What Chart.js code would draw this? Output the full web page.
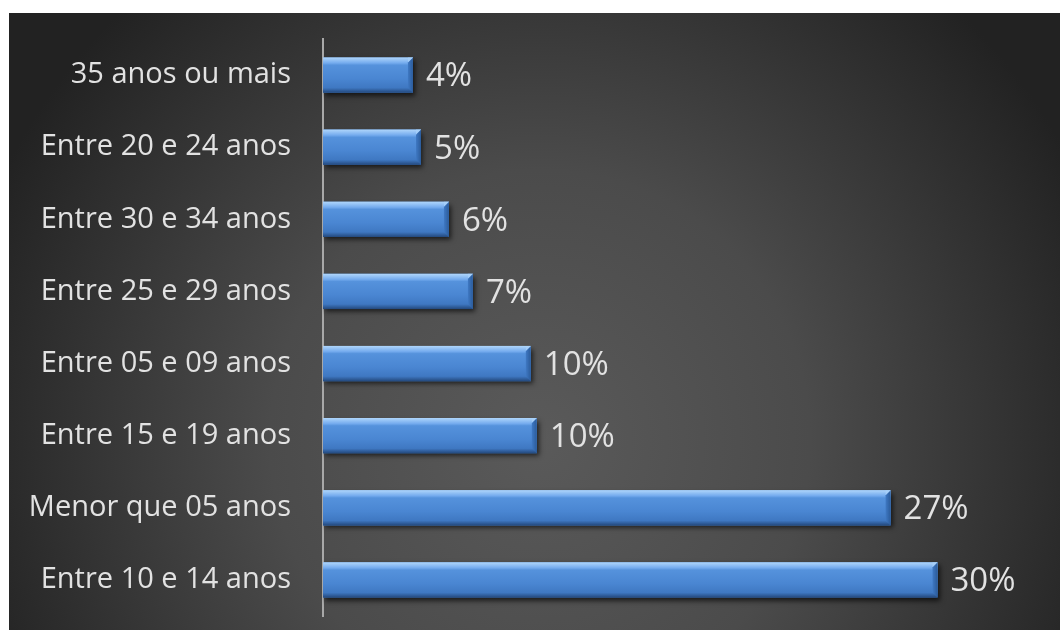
<!DOCTYPE html>
<html>
<head>
<meta charset="utf-8">
<script src="https://cdn.jsdelivr.net/npm/chart.js@4.4.1/dist/chart.umd.min.js"></script>
<style>
  html, body { margin: 0; padding: 0; background: #fff; }
  #wrap { width: 1060px; height: 630px; }
</style>
</head>
<body>
<div id="wrap"><canvas id="chart"></canvas></div>
<script>
const categories = [
    "35 anos ou mais",
    "Entre 20 e 24 anos",
    "Entre 30 e 34 anos",
    "Entre 25 e 29 anos",
    "Entre 05 e 09 anos",
    "Entre 15 e 19 anos",
    "Menor que 05 anos",
    "Entre 10 e 14 anos"
];
const shares = [4.35, 4.74, 6.09, 7.25, 10.05, 10.34, 27.45, 29.72];
const xMax = 34;

const textColor = "#e2e2e2";

// dark panel with a soft radial light in the middle
const panelBg = {
    id: "panelBg",
    beforeDraw(chart) {
        const ctx = chart.ctx;
        ctx.save();
        ctx.fillStyle = "#ffffff";
        ctx.fillRect(0, 0, chart.width, chart.height);
        const g = ctx.createRadialGradient(540, 440, 0, 540, 440, 600);
        g.addColorStop(0, "#5a5a5a");
        g.addColorStop(0.45, "#4b4b4b");
        g.addColorStop(1, "#222222");
        ctx.fillStyle = g;
        ctx.fillRect(9, 13, chart.width - 9, chart.height - 13);
        ctx.restore();
    }
};

// drop shadow under the bars
const barShadow = {
    id: "barShadow",
    beforeDatasetDraw(chart) {
        const ctx = chart.ctx;
        ctx.save();
        ctx.shadowColor = "rgba(0,0,0,0.65)";
        ctx.shadowBlur = 5;
        ctx.shadowOffsetX = 2;
        ctx.shadowOffsetY = 3;
    },
    afterDatasetDraw(chart) {
        chart.ctx.restore();
    }
};

// bevel on each bar + value labels
const bevelAndLabels = {
    id: "bevelAndLabels",
    afterDatasetsDraw(chart) {
        const ctx = chart.ctx;
        const meta = chart.getDatasetMeta(0);
        meta.data.forEach((bar, i) => {
            const p = bar.getProps(["x", "y", "base", "height"], true);
            const left = p.base, right = p.x;
            const top = p.y - p.height / 2, bottom = p.y + p.height / 2;
            const b = 5;
            ctx.save();
            // body
            let g = ctx.createLinearGradient(0, top, 0, bottom);
            g.addColorStop(0, "#b0d6fb");
            g.addColorStop(0.16, "#74abee");
            g.addColorStop(0.22, "#5592dc");
            g.addColorStop(0.6, "#4a86d2");
            g.addColorStop(0.86, "#3f78c2");
            g.addColorStop(1, "#23487c");
            ctx.fillStyle = g;
            ctx.fillRect(left, top, right - left, bottom - top);
            // right bevel
            g = ctx.createLinearGradient(right - b, 0, right, 0);
            g.addColorStop(0, "#3f79c4");
            g.addColorStop(1, "#2b5b9a");
            ctx.fillStyle = g;
            ctx.beginPath();
            ctx.moveTo(right - b, top + b);
            ctx.lineTo(right, top);
            ctx.lineTo(right, bottom);
            ctx.lineTo(right - b, bottom - b);
            ctx.closePath();
            ctx.fill();
            // top-right corner light
            ctx.fillStyle = "rgba(170,210,250,0.7)";
            ctx.beginPath();
            ctx.moveTo(right - b, top + b);
            ctx.lineTo(right, top);
            ctx.lineTo(right - b, top);
            ctx.closePath();
            ctx.fill();
            ctx.restore();

            // value label
            ctx.save();
            ctx.font = "33px 'Open Sans'";
            ctx.fillStyle = textColor;
            ctx.textAlign = "left";
            ctx.textBaseline = "middle";
            ctx.fillText(Math.round(shares[i]) + "%", right + 13, p.y + 2);
            ctx.restore();
        });
    }
};

new Chart(document.getElementById("chart"), {
    type: "bar",
    data: {
        labels: categories,
        datasets: [{
            data: shares,
            backgroundColor: "#4a86d2",
            borderWidth: 0,
            barPercentage: 0.49,
            categoryPercentage: 1
        }]
    },
    options: {
        indexAxis: "y",
        responsive: true,
        maintainAspectRatio: false,
        animation: false,
        devicePixelRatio: 1,
        layout: { padding: { left: 0, top: 39, right: 34, bottom: 14 } },
        plugins: {
            legend: { display: false },
            tooltip: { enabled: false }
        },
        scales: {
            x: {
                display: false,
                min: 0,
                max: xMax
            },
            y: {
                afterFit(scale) {
                    scale.width = 323;
                    scale.paddingTop = 0;
                    scale.paddingBottom = 0;
                },
                grid: { display: false, drawTicks: false },
                border: { display: true, color: "#a8a8a8", width: 2 },
                ticks: {
                    color: textColor,
                    padding: 32,
                    font: { family: "Open Sans", size: 29 }
                }
            }
        }
    },
    plugins: [panelBg, barShadow, bevelAndLabels]
});
</script>
</body>
</html>
